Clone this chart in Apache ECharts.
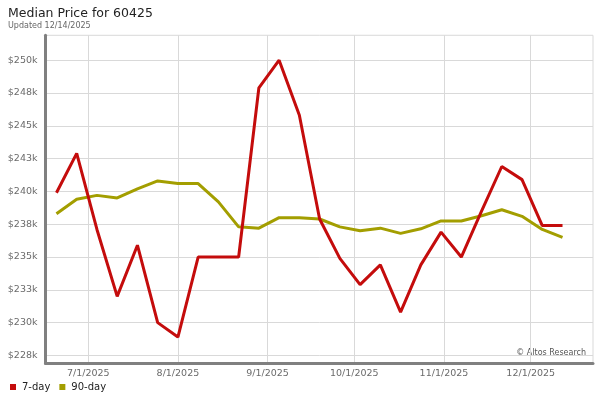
<!DOCTYPE html>
<html>
<head>
<meta charset="utf-8">
<script src="https://cdn.jsdelivr.net/npm/echarts@6/dist/echarts.min.js"></script>
<style>
html,body{margin:0;padding:0;background:#fff;}
#chart{width:600px;height:400px;}
</style>
</head>
<body>
<div id="chart"></div>
<script>
const dates = ['2025-06-20','2025-06-27','2025-07-04','2025-07-11','2025-07-18','2025-07-25',
  '2025-08-01','2025-08-08','2025-08-15','2025-08-22','2025-08-29','2025-09-05','2025-09-12',
  '2025-09-19','2025-09-26','2025-10-03','2025-10-10','2025-10-17','2025-10-24','2025-10-31',
  '2025-11-07','2025-11-14','2025-11-21','2025-11-28','2025-12-05','2025-12-12'];
const sevenDay = [239900,242900,237100,232000,235900,230000,228900,235000,235000,235000,
  247900,250000,245800,237900,234900,232900,234400,230800,234400,236900,235000,238500,
  241900,240900,237400,237400];
const ninetyDay = [238300,239400,239700,239500,240200,240800,240600,240600,239200,237300,
  237200,238000,238000,237900,237300,237000,237200,236800,237150,237750,237750,238150,
  238600,238100,237100,236500];
const yTicks = [227500,230000,232500,235000,237500,240000,242500,245000,247500,250000];
const xTicks = ['2025-07-01','2025-08-01','2025-09-01','2025-10-01','2025-11-01','2025-12-01'];

function ts(s){ const p = s.split('-').map(Number); return Date.UTC(p[0], p[1]-1, p[2]); }
const xTickVals = xTicks.map(ts);
const font = 'DejaVu Sans';

const chart = echarts.init(document.getElementById('chart'), null, {renderer:'canvas'});
chart.setOption({
  animation: false,
  backgroundColor: '#fff',
  textStyle: {fontFamily: font},
  title: {
    text: 'Median Price for 60425',
    subtext: 'Updated 12/14/2025',
    left: 3, top: 2, itemGap: 2,
    textStyle: {fontFamily: font, fontSize: 12.5, fontWeight: 'normal', color: '#222'},
    subtextStyle: {fontFamily: font, fontSize: 8, color: '#666'}
  },
  legend: {
    left: 5, top: 377,
    icon: 'rect', itemWidth: 6, itemHeight: 6, itemGap: 9,
    textStyle: {fontFamily: font, fontSize: 10, color: '#222', padding: [0,0,0,1]},
    data: ['7-day','90-day']
  },
  grid: {
    left: 45.5, right: 7, top: 35.3, bottom: 36.7,
    show: true, borderColor: '#d9d9d9', borderWidth: 1, containLabel: false
  },
  xAxis: {
    type: 'value',
    min: Date.UTC(2025,5,16,5),
    max: Date.UTC(2025,11,22,13),
    axisLine: {show: true, lineStyle: {color: '#808080', width: 3}},
    axisTick: {show: false, customValues: xTickVals},
    splitLine: {show: true, lineStyle: {color: '#d9d9d9', width: 1}},
    axisLabel: {
      customValues: xTickVals,
      fontFamily: font, fontSize: 9.5, color: '#6a6a6a', margin: 5,
      formatter: function(v){ const d = new Date(v); return (d.getUTCMonth()+1)+'/'+d.getUTCDate()+'/'+d.getUTCFullYear(); }
    }
  },
  yAxis: {
    type: 'value',
    min: 226900, max: 251900,
    axisLine: {show: true, lineStyle: {color: '#808080', width: 3}},
    axisTick: {show: false, customValues: yTicks},
    splitLine: {show: true, lineStyle: {color: '#d9d9d9', width: 1}},
    axisLabel: {
      customValues: yTicks,
      fontFamily: font, fontSize: 9.5, color: '#6a6a6a', margin: 8,
      formatter: function(v){ return '$' + Math.round(v/1000) + 'k'; }
    }
  },
  graphic: [{
    type: 'text', right: 14, top: 349,
    style: {text: '\u00A9 Altos Research', font: '8px "DejaVu Sans"', fill: '#555'}
  }],
  series: [
    {
      name: '7-day', type: 'line', showSymbol: false, z: 3,
      itemStyle: {color: '#c40c0c'},
      lineStyle: {color: '#c40c0c', width: 3},
      data: dates.map((d,i) => [ts(d), sevenDay[i]])
    },
    {
      name: '90-day', type: 'line', showSymbol: false, z: 2,
      itemStyle: {color: '#a39e00'},
      lineStyle: {color: '#a39e00', width: 3},
      data: dates.map((d,i) => [ts(d), ninetyDay[i]])
    }
  ]
});
</script>
</body>
</html>
